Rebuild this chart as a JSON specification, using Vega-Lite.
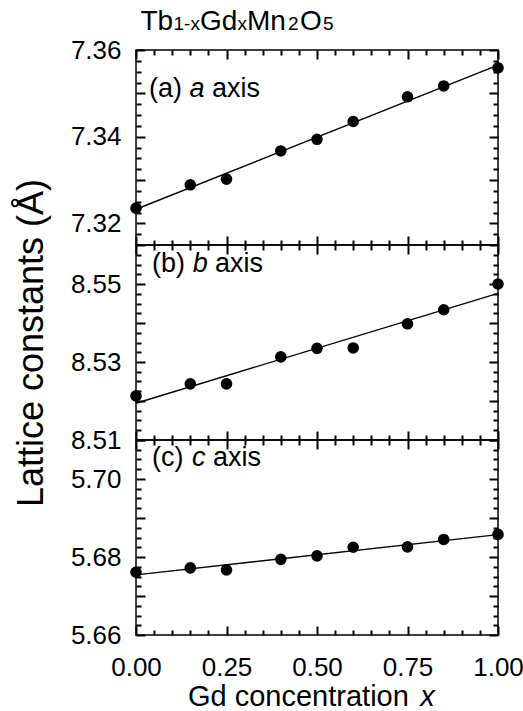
{
  "$schema": "https://vega.github.io/schema/vega-lite/v6.json",
  "background": "white",
  "padding": {"left": 12, "top": 7, "right": 0, "bottom": 0},
  "bounds": "flush",
  "spacing": 0,
  "datasets": {
    "lattice": [
      {"axis": "a", "x": 0, "value": 7.3235},
      {"axis": "a", "x": 0.15, "value": 7.3289},
      {"axis": "a", "x": 0.25, "value": 7.3302},
      {"axis": "a", "x": 0.4, "value": 7.3367},
      {"axis": "a", "x": 0.5, "value": 7.3394},
      {"axis": "a", "x": 0.6, "value": 7.3435},
      {"axis": "a", "x": 0.75, "value": 7.3492},
      {"axis": "a", "x": 0.85, "value": 7.3517},
      {"axis": "a", "x": 1, "value": 7.3559},
      {"axis": "b", "x": 0, "value": 8.5213},
      {"axis": "b", "x": 0.15, "value": 8.5244},
      {"axis": "b", "x": 0.25, "value": 8.5244},
      {"axis": "b", "x": 0.4, "value": 8.5313},
      {"axis": "b", "x": 0.5, "value": 8.5335},
      {"axis": "b", "x": 0.6, "value": 8.5336},
      {"axis": "b", "x": 0.75, "value": 8.5398},
      {"axis": "b", "x": 0.85, "value": 8.5434},
      {"axis": "b", "x": 1, "value": 8.55},
      {"axis": "c", "x": 0, "value": 5.6761},
      {"axis": "c", "x": 0.15, "value": 5.6772},
      {"axis": "c", "x": 0.25, "value": 5.6767},
      {"axis": "c", "x": 0.4, "value": 5.6794},
      {"axis": "c", "x": 0.5, "value": 5.6803},
      {"axis": "c", "x": 0.6, "value": 5.6825},
      {"axis": "c", "x": 0.75, "value": 5.6826},
      {"axis": "c", "x": 0.85, "value": 5.6845},
      {"axis": "c", "x": 1, "value": 5.6858}
    ]
  },
  "vconcat": [
    {
      "width": 362,
      "height": 195,
      "resolve": {"axis": {"x": "independent", "y": "independent"}},
      "layer": [
        {
          "data": {"name": "lattice"},
          "transform": [{"filter": "datum.axis === 'a'"}],
          "mark": {"type": "circle", "size": 135, "color": "black", "opacity": 1},
          "encoding": {
            "x": {"field": "x", "type": "quantitative", "scale": {"domain": [0, 1], "nice": false, "zero": false},
              "axis": {"orient": "bottom", "values": [0, 0.25, 0.5, 0.75, 1], "labels": false, "tickSize": 9, "offset": -9, "zindex": 1, "title": null}},
            "y": {"field": "value", "type": "quantitative", "scale": {"domain": [7.315, 7.36], "nice": false, "zero": false},
              "axis": {"orient": "left", "values": [7.32, 7.33, 7.34, 7.35, 7.36], "format": ".2f",
                "labelExpr": "round(datum.value * 100) % 2 == 0 ? datum.label : ''", "tickSize": 9, "offset": -9, "zindex": 1, "title": null}}
          }
        },
        {
          "data": {"name": "lattice"},
          "transform": [{"filter": "datum.axis === 'a'"}, {"regression": "value", "on": "x"}],
          "mark": {"type": "line", "color": "black", "strokeWidth": 1.4},
          "encoding": {
            "x": {"field": "x", "type": "quantitative",
              "axis": {"orient": "top", "values": [0, 0.25, 0.5, 0.75, 1], "labels": false, "tickSize": 9, "offset": -9, "zindex": 1, "title": null}},
            "y": {"field": "value", "type": "quantitative",
              "axis": {"orient": "right", "values": [7.32, 7.33, 7.34, 7.35, 7.36], "labels": false, "tickSize": 9, "offset": -9, "zindex": 1, "title": null}}
          }
        },
        {
          "data": {"name": "lattice"},
          "transform": [{"filter": "datum.axis === 'a'"}],
          "mark": {"type": "circle", "opacity": 0},
          "encoding": {
            "x": {"field": "x", "type": "quantitative",
              "axis": {"orient": "bottom", "values": [0.05, 0.1, 0.15, 0.2, 0.3, 0.35, 0.4, 0.45, 0.55, 0.6, 0.65, 0.7, 0.8, 0.85, 0.9, 0.95], "labels": false, "tickSize": 5, "offset": -5, "zindex": 1, "title": null}},
            "y": {"field": "value", "type": "quantitative",
              "axis": {"orient": "left", "values": [7.3175, 7.3225, 7.325, 7.3275, 7.3325, 7.335, 7.3375, 7.3425, 7.345, 7.3475, 7.3525, 7.355, 7.3575], "labels": false, "tickSize": 5, "offset": -5, "zindex": 1, "title": null}}
          }
        },
        {
          "data": {"name": "lattice"},
          "transform": [{"filter": "datum.axis === 'a'"}],
          "mark": {"type": "circle", "opacity": 0},
          "encoding": {
            "x": {"field": "x", "type": "quantitative",
              "axis": {"orient": "top", "values": [0.05, 0.1, 0.15, 0.2, 0.3, 0.35, 0.4, 0.45, 0.55, 0.6, 0.65, 0.7, 0.8, 0.85, 0.9, 0.95], "labels": false, "tickSize": 5, "offset": -5, "zindex": 1, "title": null}},
            "y": {"field": "value", "type": "quantitative",
              "axis": {"orient": "right", "values": [7.3175, 7.3225, 7.325, 7.3275, 7.3325, 7.335, 7.3375, 7.3425, 7.345, 7.3475, 7.3525, 7.355, 7.3575], "labels": false, "tickSize": 5, "offset": -5, "zindex": 1, "title": null}}
          }
        },
        {
          "data": {"values": [{}]},
          "mark": {"type": "text", "text": "Tb", "align": "left", "baseline": "alphabetic", "fontSize": 28, "color": "black"},
          "encoding": {"x": {"datum": 0.0124, "type": "quantitative", "axis": null}, "y": {"datum": 7.3646, "type": "quantitative", "axis": null}}
        },
        {
          "data": {"values": [{}]},
          "mark": {"type": "text", "text": "1-x", "align": "left", "baseline": "alphabetic", "fontSize": 19, "color": "black"},
          "encoding": {"x": {"datum": 0.1036, "type": "quantitative", "axis": null}, "y": {"datum": 7.3646, "type": "quantitative", "axis": null}}
        },
        {
          "data": {"values": [{}]},
          "mark": {"type": "text", "text": "Gd", "align": "left", "baseline": "alphabetic", "fontSize": 28, "color": "black"},
          "encoding": {"x": {"datum": 0.1768, "type": "quantitative", "axis": null}, "y": {"datum": 7.3646, "type": "quantitative", "axis": null}}
        },
        {
          "data": {"values": [{}]},
          "mark": {"type": "text", "text": "x", "align": "left", "baseline": "alphabetic", "fontSize": 19, "color": "black"},
          "encoding": {"x": {"datum": 0.2804, "type": "quantitative", "axis": null}, "y": {"datum": 7.3646, "type": "quantitative", "axis": null}}
        },
        {
          "data": {"values": [{}]},
          "mark": {"type": "text", "text": "Mn", "align": "left", "baseline": "alphabetic", "fontSize": 28, "color": "black"},
          "encoding": {"x": {"datum": 0.3066, "type": "quantitative", "axis": null}, "y": {"datum": 7.3646, "type": "quantitative", "axis": null}}
        },
        {
          "data": {"values": [{}]},
          "mark": {"type": "text", "text": "2", "align": "left", "baseline": "alphabetic", "fontSize": 19, "color": "black"},
          "encoding": {"x": {"datum": 0.4199, "type": "quantitative", "axis": null}, "y": {"datum": 7.3646, "type": "quantitative", "axis": null}}
        },
        {
          "data": {"values": [{}]},
          "mark": {"type": "text", "text": "O", "align": "left", "baseline": "alphabetic", "fontSize": 28, "color": "black"},
          "encoding": {"x": {"datum": 0.453, "type": "quantitative", "axis": null}, "y": {"datum": 7.3646, "type": "quantitative", "axis": null}}
        },
        {
          "data": {"values": [{}]},
          "mark": {"type": "text", "text": "5", "align": "left", "baseline": "alphabetic", "fontSize": 19, "color": "black"},
          "encoding": {"x": {"datum": 0.5166, "type": "quantitative", "axis": null}, "y": {"datum": 7.3646, "type": "quantitative", "axis": null}}
        },
        {
          "data": {"values": [{}]},
          "mark": {"type": "text", "text": "(a)", "align": "left", "baseline": "alphabetic", "fontSize": 27, "color": "black"},
          "encoding": {"x": {"datum": 0.036, "type": "quantitative", "axis": null}, "y": {"datum": 7.3492, "type": "quantitative", "axis": null}}
        },
        {
          "data": {"values": [{}]},
          "mark": {"type": "text", "text": "a", "fontStyle": "italic", "align": "left", "baseline": "alphabetic", "fontSize": 27, "color": "black"},
          "encoding": {"x": {"datum": 0.148, "type": "quantitative", "axis": null}, "y": {"datum": 7.3492, "type": "quantitative", "axis": null}}
        },
        {
          "data": {"values": [{}]},
          "mark": {"type": "text", "text": "axis", "align": "left", "baseline": "alphabetic", "fontSize": 27, "color": "black"},
          "encoding": {"x": {"datum": 0.21, "type": "quantitative", "axis": null}, "y": {"datum": 7.3492, "type": "quantitative", "axis": null}}
        }
      ]
    },
    {
      "width": 362,
      "height": 195,
      "resolve": {"axis": {"x": "independent", "y": "independent"}},
      "layer": [
        {
          "data": {"name": "lattice"},
          "transform": [{"filter": "datum.axis === 'b'"}],
          "mark": {"type": "circle", "size": 135, "color": "black", "opacity": 1},
          "encoding": {
            "x": {"field": "x", "type": "quantitative", "scale": {"domain": [0, 1], "nice": false, "zero": false},
              "axis": {"orient": "bottom", "values": [0, 0.25, 0.5, 0.75, 1], "labels": false, "tickSize": 9, "offset": -9, "zindex": 1, "title": null}},
            "y": {"field": "value", "type": "quantitative", "scale": {"domain": [8.51, 8.56], "nice": false, "zero": false},
              "axis": {"orient": "left", "values": [8.51, 8.52, 8.53, 8.54, 8.55, 8.56], "format": ".2f",
                "labelExpr": "round(datum.value * 100) % 2 == 1 ? datum.label : ''", "tickSize": 9, "offset": -9, "zindex": 1,
                "title": "Lattice constants (Å)", "titleFontSize": 36, "titlePadding": 20}}
          }
        },
        {
          "data": {"name": "lattice"},
          "transform": [{"filter": "datum.axis === 'b'"}, {"regression": "value", "on": "x"}],
          "mark": {"type": "line", "color": "black", "strokeWidth": 1.4},
          "encoding": {
            "x": {"field": "x", "type": "quantitative",
              "axis": {"orient": "top", "values": [0, 0.25, 0.5, 0.75, 1], "labels": false, "tickSize": 9, "offset": -9, "zindex": 1, "title": null}},
            "y": {"field": "value", "type": "quantitative",
              "axis": {"orient": "right", "values": [8.51, 8.52, 8.53, 8.54, 8.55, 8.56], "labels": false, "tickSize": 9, "offset": -9, "zindex": 1, "title": null}}
          }
        },
        {
          "data": {"name": "lattice"},
          "transform": [{"filter": "datum.axis === 'b'"}],
          "mark": {"type": "circle", "opacity": 0},
          "encoding": {
            "x": {"field": "x", "type": "quantitative",
              "axis": {"orient": "bottom", "values": [0.05, 0.1, 0.15, 0.2, 0.3, 0.35, 0.4, 0.45, 0.55, 0.6, 0.65, 0.7, 0.8, 0.85, 0.9, 0.95], "labels": false, "tickSize": 5, "offset": -5, "zindex": 1, "title": null}},
            "y": {"field": "value", "type": "quantitative",
              "axis": {"orient": "left", "values": [8.5125, 8.515, 8.5175, 8.5225, 8.525, 8.5275, 8.5325, 8.535, 8.5375, 8.5425, 8.545, 8.5475, 8.5525, 8.555, 8.5575], "labels": false, "tickSize": 5, "offset": -5, "zindex": 1, "title": null}}
          }
        },
        {
          "data": {"name": "lattice"},
          "transform": [{"filter": "datum.axis === 'b'"}],
          "mark": {"type": "circle", "opacity": 0},
          "encoding": {
            "x": {"field": "x", "type": "quantitative",
              "axis": {"orient": "top", "values": [0.05, 0.1, 0.15, 0.2, 0.3, 0.35, 0.4, 0.45, 0.55, 0.6, 0.65, 0.7, 0.8, 0.85, 0.9, 0.95], "labels": false, "tickSize": 5, "offset": -5, "zindex": 1, "title": null}},
            "y": {"field": "value", "type": "quantitative",
              "axis": {"orient": "right", "values": [8.5125, 8.515, 8.5175, 8.5225, 8.525, 8.5275, 8.5325, 8.535, 8.5375, 8.5425, 8.545, 8.5475, 8.5525, 8.555, 8.5575], "labels": false, "tickSize": 5, "offset": -5, "zindex": 1, "title": null}}
          }
        },
        {
          "data": {"values": [{}]},
          "mark": {"type": "text", "text": "(b)", "align": "left", "baseline": "alphabetic", "fontSize": 27, "color": "black"},
          "encoding": {"x": {"datum": 0.044, "type": "quantitative", "axis": null}, "y": {"datum": 8.5531, "type": "quantitative", "axis": null}}
        },
        {
          "data": {"values": [{}]},
          "mark": {"type": "text", "text": "b", "fontStyle": "italic", "align": "left", "baseline": "alphabetic", "fontSize": 27, "color": "black"},
          "encoding": {"x": {"datum": 0.157, "type": "quantitative", "axis": null}, "y": {"datum": 8.5531, "type": "quantitative", "axis": null}}
        },
        {
          "data": {"values": [{}]},
          "mark": {"type": "text", "text": "axis", "align": "left", "baseline": "alphabetic", "fontSize": 27, "color": "black"},
          "encoding": {"x": {"datum": 0.218, "type": "quantitative", "axis": null}, "y": {"datum": 8.5531, "type": "quantitative", "axis": null}}
        }
      ]
    },
    {
      "width": 362,
      "height": 195,
      "resolve": {"axis": {"x": "independent", "y": "independent"}},
      "layer": [
        {
          "data": {"name": "lattice"},
          "transform": [{"filter": "datum.axis === 'c'"}],
          "mark": {"type": "circle", "size": 135, "color": "black", "opacity": 1},
          "encoding": {
            "x": {"field": "x", "type": "quantitative", "scale": {"domain": [0, 1], "nice": false, "zero": false},
              "axis": {"orient": "bottom", "values": [0, 0.25, 0.5, 0.75, 1], "format": ".2f", "labelPadding": 19, "tickSize": 9, "offset": -9, "zindex": 1, "title": null}},
            "y": {"field": "value", "type": "quantitative", "scale": {"domain": [5.66, 5.71], "nice": false, "zero": false},
              "axis": {"orient": "left", "values": [5.66, 5.67, 5.68, 5.69, 5.7, 5.71], "format": ".2f",
                "labelExpr": "round(datum.value * 100) % 2 == 0 ? datum.label : ''", "tickSize": 9, "offset": -9, "zindex": 1, "title": null}}
          }
        },
        {
          "data": {"name": "lattice"},
          "transform": [{"filter": "datum.axis === 'c'"}, {"regression": "value", "on": "x"}],
          "mark": {"type": "line", "color": "black", "strokeWidth": 1.4},
          "encoding": {
            "x": {"field": "x", "type": "quantitative",
              "axis": {"orient": "top", "values": [0, 0.25, 0.5, 0.75, 1], "labels": false, "tickSize": 9, "offset": -9, "zindex": 1, "title": null}},
            "y": {"field": "value", "type": "quantitative",
              "axis": {"orient": "right", "values": [5.66, 5.67, 5.68, 5.69, 5.7, 5.71], "labels": false, "tickSize": 9, "offset": -9, "zindex": 1, "title": null}}
          }
        },
        {
          "data": {"name": "lattice"},
          "transform": [{"filter": "datum.axis === 'c'"}],
          "mark": {"type": "circle", "opacity": 0},
          "encoding": {
            "x": {"field": "x", "type": "quantitative",
              "axis": {"orient": "bottom", "values": [0.05, 0.1, 0.15, 0.2, 0.3, 0.35, 0.4, 0.45, 0.55, 0.6, 0.65, 0.7, 0.8, 0.85, 0.9, 0.95], "labels": false, "tickSize": 5, "offset": -5, "zindex": 1, "title": null}},
            "y": {"field": "value", "type": "quantitative",
              "axis": {"orient": "left", "values": [5.6625, 5.665, 5.6675, 5.6725, 5.675, 5.6775, 5.6825, 5.685, 5.6875, 5.6925, 5.695, 5.6975, 5.7025, 5.705, 5.7075], "labels": false, "tickSize": 5, "offset": -5, "zindex": 1, "title": null}}
          }
        },
        {
          "data": {"name": "lattice"},
          "transform": [{"filter": "datum.axis === 'c'"}],
          "mark": {"type": "circle", "opacity": 0},
          "encoding": {
            "x": {"field": "x", "type": "quantitative",
              "axis": {"orient": "top", "values": [0.05, 0.1, 0.15, 0.2, 0.3, 0.35, 0.4, 0.45, 0.55, 0.6, 0.65, 0.7, 0.8, 0.85, 0.9, 0.95], "labels": false, "tickSize": 5, "offset": -5, "zindex": 1, "title": null}},
            "y": {"field": "value", "type": "quantitative",
              "axis": {"orient": "right", "values": [5.6625, 5.665, 5.6675, 5.6725, 5.675, 5.6775, 5.6825, 5.685, 5.6875, 5.6925, 5.695, 5.6975, 5.7025, 5.705, 5.7075], "labels": false, "tickSize": 5, "offset": -5, "zindex": 1, "title": null}}
          }
        },
        {
          "data": {"values": [{}]},
          "mark": {"type": "text", "text": "(c)", "align": "left", "baseline": "alphabetic", "fontSize": 27, "color": "black"},
          "encoding": {"x": {"datum": 0.044, "type": "quantitative", "axis": null}, "y": {"datum": 5.7033, "type": "quantitative", "axis": null}}
        },
        {
          "data": {"values": [{}]},
          "mark": {"type": "text", "text": "c", "fontStyle": "italic", "align": "left", "baseline": "alphabetic", "fontSize": 27, "color": "black"},
          "encoding": {"x": {"datum": 0.155, "type": "quantitative", "axis": null}, "y": {"datum": 5.7033, "type": "quantitative", "axis": null}}
        },
        {
          "data": {"values": [{}]},
          "mark": {"type": "text", "text": "axis", "align": "left", "baseline": "alphabetic", "fontSize": 27, "color": "black"},
          "encoding": {"x": {"datum": 0.213, "type": "quantitative", "axis": null}, "y": {"datum": 5.7033, "type": "quantitative", "axis": null}}
        },
        {
          "data": {"values": [{}]},
          "mark": {"type": "text", "text": "Gd concentration", "align": "left", "baseline": "alphabetic", "fontSize": 29, "color": "black"},
          "encoding": {"x": {"datum": 0.1436, "type": "quantitative", "axis": null}, "y": {"datum": 5.6418, "type": "quantitative", "axis": null}}
        },
        {
          "data": {"values": [{}]},
          "mark": {"type": "text", "text": "x", "fontStyle": "italic", "align": "left", "baseline": "alphabetic", "fontSize": 29, "color": "black"},
          "encoding": {"x": {"datum": 0.785, "type": "quantitative", "axis": null}, "y": {"datum": 5.6418, "type": "quantitative", "axis": null}}
        }
      ]
    }
  ],
  "config": {
    "view": {"stroke": "black", "strokeWidth": 1.5},
    "text": {"font": "Liberation Sans"},
    "axis": {
      "domain": false,
      "grid": false,
      "ticks": true,
      "tickColor": "#000000",
      "tickOpacity": 1,
      "tickWidth": 2,
      "labelFont": "Liberation Sans",
      "labelFontSize": 26,
      "labelColor": "black",
      "labelFlush": false,
      "labelOverlap": false,
      "labelPadding": 15,
      "titleFont": "Liberation Sans",
      "titleFontWeight": "normal",
      "titleColor": "black"
    }
  }
}
